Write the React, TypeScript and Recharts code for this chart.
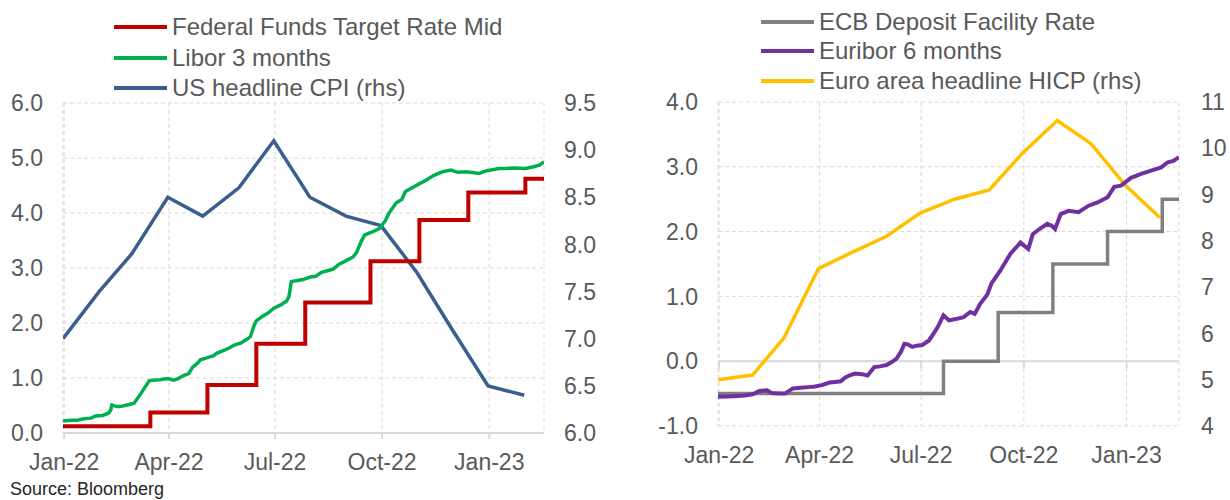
import React from 'react';
import { LineChart, Line, XAxis, YAxis, CartesianGrid, ReferenceLine } from 'recharts';

// ---------- shared axis data ----------
const xTickDates = ['2022-01-01', '2022-04-01', '2022-07-01', '2022-10-01', '2023-01-01'];
const xTickLabels = ['Jan-22', 'Apr-22', 'Jul-22', 'Oct-22', 'Jan-23'];
const xDomainDates = ['2021-12-31', '2023-02-17'];

// ---------- US panel ----------
const usLeftTicks = [0, 1, 2, 3, 4, 5, 6];
const usRightTicks = [6.0, 6.5, 7.0, 7.5, 8.0, 8.5, 9.0, 9.5];

const fedFundsMid: [string, number][] = [
  ['2021-12-31', 0.125], ['2022-03-16', 0.375], ['2022-05-04', 0.875], ['2022-06-15', 1.625],
  ['2022-07-27', 2.375], ['2022-09-21', 3.125], ['2022-11-02', 3.875], ['2022-12-14', 4.375],
  ['2023-02-01', 4.625], ['2023-02-17', 4.625],
];

const libor3m: [string, number][] = [
  ['2021-12-31', 0.22], ['2022-01-07', 0.23], ['2022-01-12', 0.23], ['2022-01-18', 0.26], ['2022-01-24', 0.27],
  ['2022-01-28', 0.31], ['2022-02-03', 0.32], ['2022-02-08', 0.36], ['2022-02-10', 0.42], ['2022-02-11', 0.51],
  ['2022-02-15', 0.48], ['2022-02-18', 0.48], ['2022-02-24', 0.51], ['2022-03-02', 0.54], ['2022-03-08', 0.72],
  ['2022-03-11', 0.82], ['2022-03-15', 0.95], ['2022-03-18', 0.96], ['2022-03-24', 0.97], ['2022-03-31', 0.99],
  ['2022-04-05', 0.96], ['2022-04-08', 0.98], ['2022-04-14', 1.05], ['2022-04-18', 1.08], ['2022-04-21', 1.19],
  ['2022-04-25', 1.26], ['2022-04-28', 1.33], ['2022-05-04', 1.37], ['2022-05-09', 1.40], ['2022-05-12', 1.45],
  ['2022-05-18', 1.50], ['2022-05-23', 1.55], ['2022-05-27', 1.60], ['2022-06-02', 1.64], ['2022-06-08', 1.72],
  ['2022-06-10', 1.76], ['2022-06-13', 1.95], ['2022-06-15', 2.04], ['2022-06-20', 2.12], ['2022-06-25', 2.18],
  ['2022-06-30', 2.27], ['2022-07-06', 2.33], ['2022-07-11', 2.40], ['2022-07-13', 2.48], ['2022-07-15', 2.75],
  ['2022-07-19', 2.77], ['2022-07-25', 2.79], ['2022-08-01', 2.84], ['2022-08-05', 2.85], ['2022-08-10', 2.92],
  ['2022-08-15', 2.95], ['2022-08-20', 2.98], ['2022-08-25', 3.07], ['2022-08-30', 3.12], ['2022-09-06', 3.20],
  ['2022-09-09', 3.28], ['2022-09-13', 3.48], ['2022-09-16', 3.60], ['2022-09-22', 3.65], ['2022-09-29', 3.72],
  ['2022-10-04', 3.87], ['2022-10-07', 4.00], ['2022-10-13', 4.18], ['2022-10-18', 4.25], ['2022-10-21', 4.39],
  ['2022-10-26', 4.45], ['2022-11-01', 4.52], ['2022-11-08', 4.60], ['2022-11-14', 4.68], ['2022-11-22', 4.75],
  ['2022-11-29', 4.78], ['2022-12-05', 4.74], ['2022-12-12', 4.75], ['2022-12-19', 4.73], ['2022-12-23', 4.72],
  ['2022-12-30', 4.77], ['2023-01-05', 4.79], ['2023-01-09', 4.81], ['2023-01-16', 4.81], ['2023-01-23', 4.82],
  ['2023-02-01', 4.81], ['2023-02-08', 4.84], ['2023-02-13', 4.87], ['2023-02-17', 4.93],
];

const usCpi: [string, number][] = [
  ['2021-12-31', 7.0], ['2022-01-31', 7.5], ['2022-02-28', 7.9], ['2022-03-31', 8.5], ['2022-04-30', 8.3],
  ['2022-05-31', 8.6], ['2022-06-30', 9.1], ['2022-07-31', 8.5], ['2022-08-31', 8.3], ['2022-09-30', 8.2],
  ['2022-10-31', 7.7], ['2022-11-30', 7.1], ['2022-12-31', 6.5], ['2023-01-31', 6.4],
];

// ---------- Euro panel ----------
const euLeftTicks = [-1, 0, 1, 2, 3, 4];
const euRightTicks = [4, 5, 6, 7, 8, 9, 10, 11];

const ecbDeposit: [string, number][] = [
  ['2021-12-31', -0.5], ['2022-07-21', 0.0], ['2022-09-08', 0.75], ['2022-10-27', 1.5],
  ['2022-12-15', 2.0], ['2023-02-02', 2.5], ['2023-02-17', 2.5],
];

const euribor6m: [string, number][] = [
  ['2021-12-31', -0.55], ['2022-01-14', -0.54], ['2022-01-24', -0.53], ['2022-01-31', -0.51], ['2022-02-06', -0.46],
  ['2022-02-13', -0.45], ['2022-02-17', -0.49], ['2022-02-24', -0.50], ['2022-03-01', -0.50], ['2022-03-08', -0.42],
  ['2022-03-15', -0.41], ['2022-03-22', -0.40], ['2022-03-28', -0.39], ['2022-04-03', -0.37], ['2022-04-10', -0.33],
  ['2022-04-15', -0.32], ['2022-04-20', -0.31], ['2022-04-24', -0.25], ['2022-04-28', -0.22], ['2022-05-03', -0.19],
  ['2022-05-09', -0.20], ['2022-05-14', -0.22], ['2022-05-20', -0.09], ['2022-05-25', -0.08], ['2022-05-31', -0.06],
  ['2022-06-05', -0.01], ['2022-06-09', 0.04], ['2022-06-13', 0.15], ['2022-06-16', 0.27], ['2022-06-19', 0.26],
  ['2022-06-23', 0.22], ['2022-06-27', 0.24], ['2022-07-02', 0.25], ['2022-07-08', 0.32], ['2022-07-13', 0.45],
  ['2022-07-16', 0.53], ['2022-07-21', 0.71], ['2022-07-26', 0.63], ['2022-08-01', 0.65], ['2022-08-08', 0.68],
  ['2022-08-14', 0.76], ['2022-08-18', 0.73], ['2022-08-23', 0.89], ['2022-08-29', 1.02], ['2022-09-02', 1.20],
  ['2022-09-10', 1.40], ['2022-09-19', 1.66], ['2022-09-28', 1.83], ['2022-10-05', 1.73], ['2022-10-09', 1.96],
  ['2022-10-15', 2.04], ['2022-10-22', 2.12], ['2022-10-26', 2.09], ['2022-10-29', 2.04], ['2022-11-03', 2.27],
  ['2022-11-10', 2.32], ['2022-11-19', 2.30], ['2022-11-28', 2.40], ['2022-12-06', 2.45], ['2022-12-15', 2.53],
  ['2022-12-21', 2.69], ['2022-12-27', 2.71], ['2023-01-05', 2.83], ['2023-01-14', 2.89], ['2023-01-23', 2.94],
  ['2023-02-01', 2.99], ['2023-02-07', 3.07], ['2023-02-12', 3.09], ['2023-02-17', 3.15],
];

const euHicp: [string, number][] = [
  ['2021-12-31', 5.0], ['2022-01-31', 5.1], ['2022-02-28', 5.9], ['2022-03-31', 7.4], ['2022-04-30', 7.75],
  ['2022-05-31', 8.1], ['2022-06-30', 8.6], ['2022-07-31', 8.9], ['2022-08-31', 9.1], ['2022-09-30', 9.9],
  ['2022-10-31', 10.6], ['2022-11-30', 10.1], ['2022-12-31', 9.2], ['2023-01-31', 8.5],
];

// ---------- helpers ----------
const toT = (s: string) => Date.UTC(+s.slice(0, 4), +s.slice(5, 7) - 1, +s.slice(8, 10));
const series = (arr: [string, number][]) => arr.map(([d, v]) => ({ t: toT(d), v }));
const xTicks = xTickDates.map(toT);
const xDomain = xDomainDates.map(toT);
const xFmt = (t: number) => {
  const i = xTicks.indexOf(t);
  return i >= 0 ? xTickLabels[i] : '';
};

const FONT = '"Liberation Sans", Arial, sans-serif';
const TXT = '#595959';
const GRID = '#d9d9d9';
const tickStyle = { fill: TXT, fontSize: 23, fontFamily: FONT };

const LegendRow = ({ color, label, top, left }: { color: string; label: string; top: number; left: number }) => (
  <div style={{ position: 'absolute', left, top: top - 15, height: 30, display: 'flex', alignItems: 'center', whiteSpace: 'nowrap' }}>
    <span style={{ display: 'inline-block', width: 53, height: 4, background: color, marginRight: 5 }} />
    <span style={{ fontFamily: FONT, fontSize: 24, color: TXT, lineHeight: '30px' }}>{label}</span>
  </div>
);

export default function App() {
  return (
    <div style={{ position: 'absolute', left: 0, top: 0, width: 1230, height: 500, background: '#fff', overflow: 'hidden' }}>
      {/* US panel */}
      <div style={{ position: 'absolute', left: 0, top: 0 }}>
        <LineChart width={620} height={500} margin={{ top: 103, right: 16, bottom: 27, left: 0 }}>
          <CartesianGrid yAxisId="l" stroke={GRID} strokeDasharray="4 3" />
          <XAxis
            dataKey="t"
            type="number"
            domain={xDomain}
            ticks={xTicks}
            tickFormatter={xFmt}
            interval={0}
            allowDataOverflow
            height={40}
            axisLine={{ stroke: GRID, strokeWidth: 2 }}
            tickLine={{ stroke: GRID, strokeWidth: 2 }}
            tickSize={6}
            tickMargin={15}
            tick={tickStyle}
          />
          <YAxis
            yAxisId="l"
            domain={[0, 6]}
            ticks={usLeftTicks}
            interval={0}
            tickFormatter={(v: number) => v.toFixed(1)}
            axisLine={false}
            tickLine={false}
            tickSize={0}
            tickMargin={20}
            width={63}
            tick={tickStyle}
          />
          <YAxis
            yAxisId="r"
            orientation="right"
            domain={[6, 9.5]}
            ticks={usRightTicks}
            interval={0}
            tickFormatter={(v: number) => v.toFixed(1)}
            axisLine={false}
            tickLine={false}
            tickSize={0}
            tickMargin={20}
            width={60}
            tick={{ ...tickStyle, textAnchor: 'start' }}
          />
          <Line yAxisId="r" data={series(usCpi)} dataKey="v" type="linear" stroke="#3A5F8F" strokeWidth={3.5} dot={false} isAnimationActive={false} />
          <Line yAxisId="l" data={series(libor3m)} dataKey="v" type="linear" stroke="#00B050" strokeWidth={3.5} dot={false} isAnimationActive={false} />
          <Line yAxisId="l" data={series(fedFundsMid)} dataKey="v" type="stepAfter" stroke="#C00000" strokeWidth={4} dot={false} isAnimationActive={false} />
        </LineChart>
      </div>

      {/* Euro panel */}
      <div style={{ position: 'absolute', left: 620, top: 0 }}>
        <LineChart width={610} height={500} margin={{ top: 102, right: 11, bottom: 34, left: 0 }}>
          <CartesianGrid yAxisId="l" stroke={GRID} strokeDasharray="4 3" />
          <XAxis
            dataKey="t"
            type="number"
            domain={xDomain}
            ticks={xTicks}
            tickFormatter={xFmt}
            interval={0}
            allowDataOverflow
            height={40}
            axisLine={false}
            tickLine={false}
            tickSize={6}
            tickMargin={15}
            tick={tickStyle}
          />
          <YAxis
            yAxisId="l"
            domain={[-1, 4]}
            ticks={euLeftTicks}
            interval={0}
            tickFormatter={(v: number) => v.toFixed(1)}
            axisLine={false}
            tickLine={false}
            tickSize={0}
            tickMargin={20}
            width={98}
            tick={tickStyle}
          />
          <YAxis
            yAxisId="r"
            orientation="right"
            domain={[4, 11]}
            ticks={euRightTicks}
            interval={0}
            axisLine={false}
            tickLine={false}
            tickSize={0}
            tickMargin={22}
            width={40}
            tick={{ ...tickStyle, textAnchor: 'start' }}
          />
          <ReferenceLine yAxisId="l" y={0} stroke={GRID} strokeWidth={2} />
          {xTicks.map((t) => (
            <ReferenceLine
              key={t}
              yAxisId="l"
              segment={[{ x: t, y: 0 }, { x: t, y: -0.11 }]}
              stroke={GRID}
              strokeWidth={2}
            />
          ))}
          <Line yAxisId="r" data={series(euHicp)} dataKey="v" type="linear" stroke="#FFC000" strokeWidth={3.5} dot={false} isAnimationActive={false} />
          <Line yAxisId="l" data={series(ecbDeposit)} dataKey="v" type="stepAfter" stroke="#808080" strokeWidth={3.5} dot={false} isAnimationActive={false} />
          <Line yAxisId="l" data={series(euribor6m)} dataKey="v" type="linear" stroke="#7030A0" strokeWidth={4} dot={false} isAnimationActive={false} />
        </LineChart>
      </div>

      {/* Legends */}
      <LegendRow color="#C00000" label="Federal Funds Target Rate Mid" top={27} left={114} />
      <LegendRow color="#00B050" label="Libor 3 months" top={58} left={114} />
      <LegendRow color="#3A5F8F" label="US headline CPI (rhs)" top={88} left={114} />

      <LegendRow color="#808080" label="ECB Deposit Facility Rate" top={22} left={761} />
      <LegendRow color="#7030A0" label="Euribor 6 months" top={51} left={761} />
      <LegendRow color="#FFC000" label="Euro area headline HICP (rhs)" top={81} left={761} />

      <div style={{ position: 'absolute', left: 10, top: 478, fontFamily: FONT, fontSize: 18, color: '#262626', whiteSpace: 'nowrap', lineHeight: '22px' }}>
        Source: Bloomberg
      </div>
    </div>
  );
}
